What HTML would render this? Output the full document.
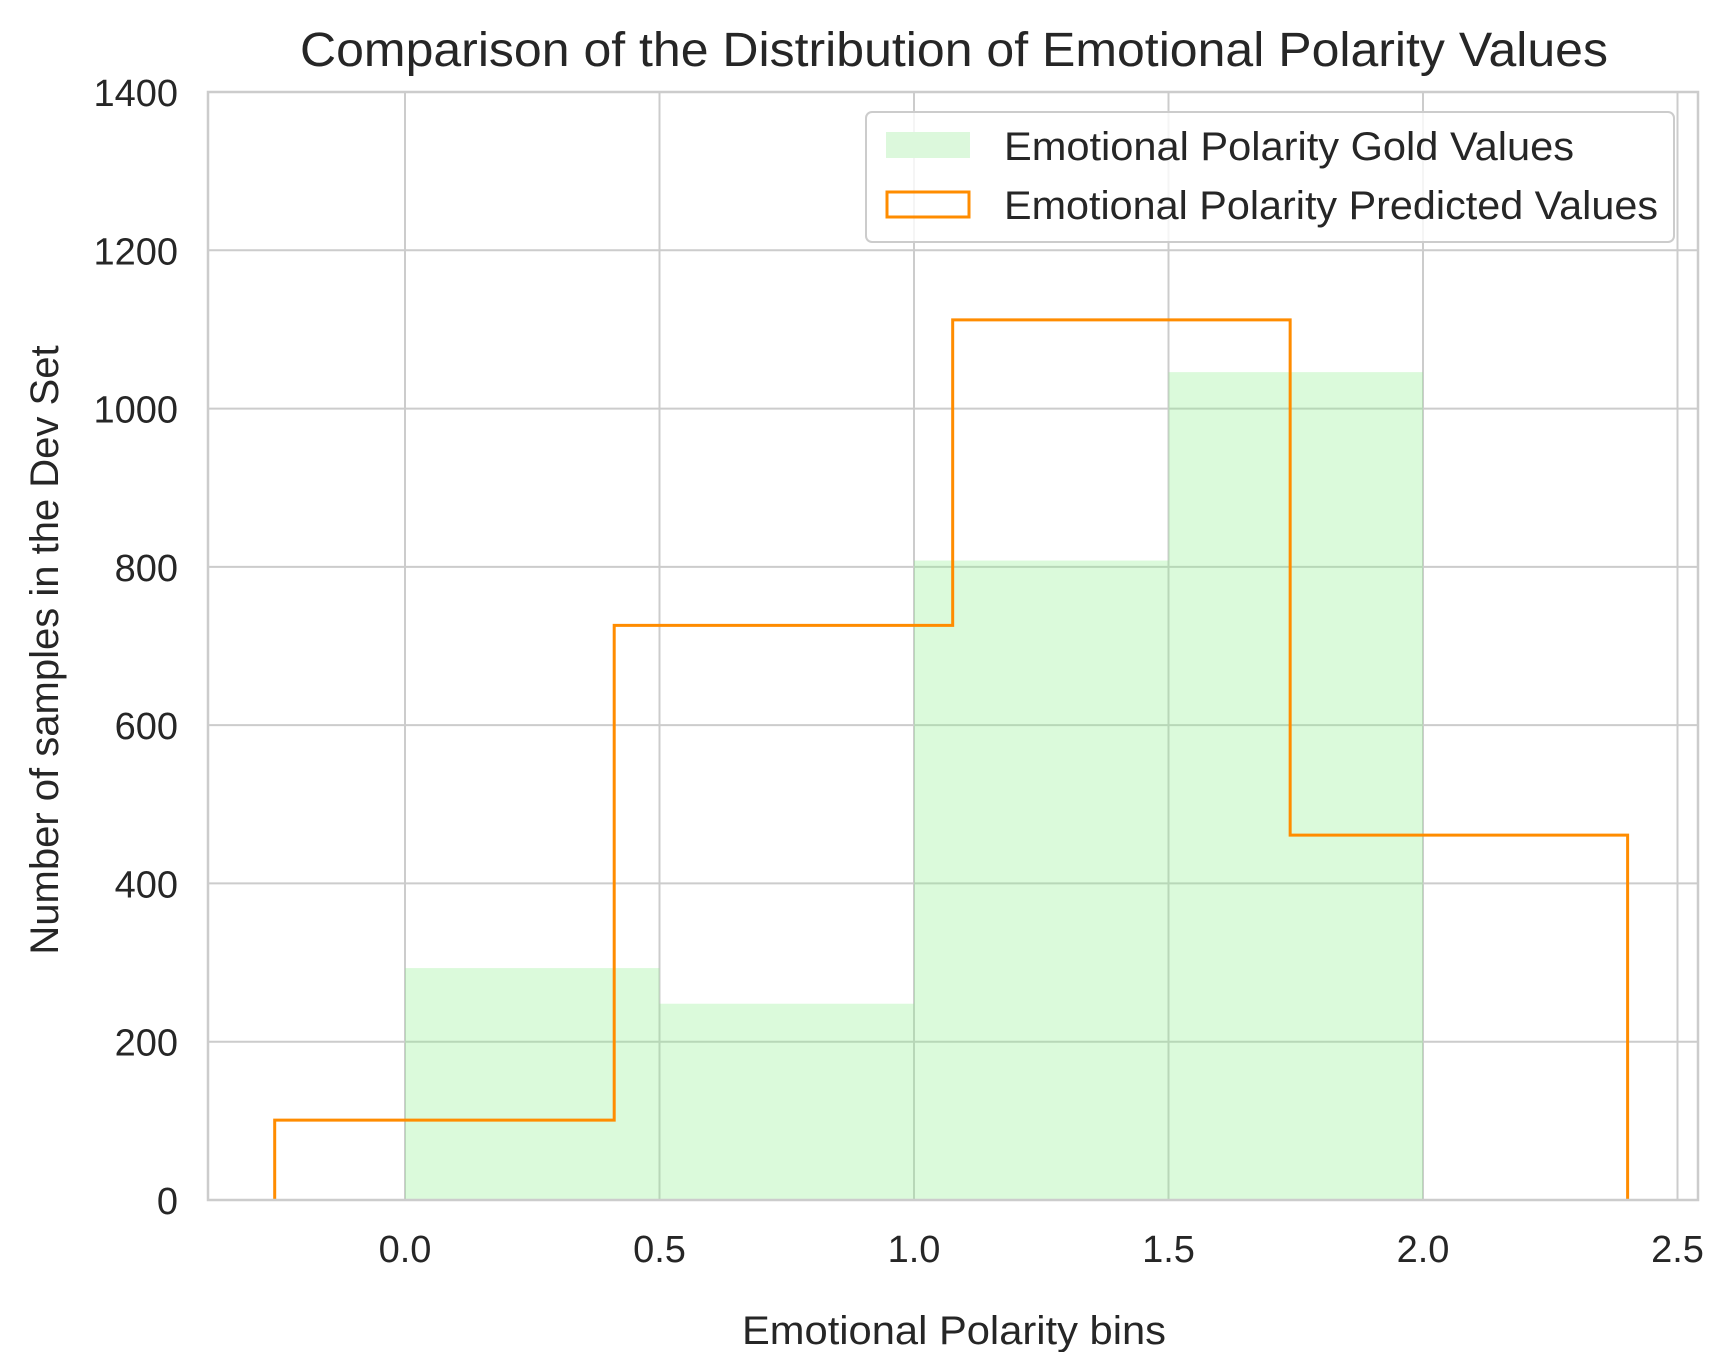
<!DOCTYPE html>
<html><head><meta charset="utf-8"><style>
body{margin:0;background:#fff}
svg text{font-family:"Liberation Sans",Arial,sans-serif;fill:#262626}
</style></head><body>
<svg id="chart" width="1734" height="1352" viewBox="0 0 1734 1352" xmlns="http://www.w3.org/2000/svg">
<g id="grid"></g>
<g id="gold"></g>
<g id="pred"></g>
<g id="axes"></g>
<text x="954" y="66" font-size="48" text-anchor="middle" textLength="1308" lengthAdjust="spacingAndGlyphs">Comparison of the Distribution of Emotional Polarity Values</text>
<text x="954" y="1344" font-size="40" text-anchor="middle" textLength="424" lengthAdjust="spacingAndGlyphs">Emotional Polarity bins</text>
<text transform="translate(58,650) rotate(-90)" font-size="40" text-anchor="middle">Number of samples in the Dev Set</text>
<g>
<rect x="866" y="112" width="808" height="130" rx="6" fill="#fff" fill-opacity="0.8" stroke="#cccccc" stroke-width="2"/>
<rect x="886" y="132" width="84" height="26" fill="#dcf8dc"/>
<text x="1004" y="160" font-size="40" textLength="570" lengthAdjust="spacingAndGlyphs">Emotional Polarity Gold Values</text>
<rect x="887" y="192" width="82" height="25" fill="none" stroke="#ff8c00" stroke-width="3"/>
<text x="1004" y="219" font-size="40" textLength="654" lengthAdjust="spacingAndGlyphs">Emotional Polarity Predicted Values</text>
</g>
</svg>
<script>
const goldEdges=[0,0.5,1.0,1.5,2.0];
const goldCounts=[293,248,808,1046];
const predEdges=[-0.256,0.411,1.076,1.739,2.402];
const predCounts=[101,726,1112,461];
const xTicks=[0.0,0.5,1.0,1.5,2.0,2.5];
const xTickLabels=["0.0","0.5","1.0","1.5","2.0","2.5"];
const yTicks=[0,200,400,600,800,1000,1200,1400];

const L=208,R=1698,T=92,B=1200;
const X0=405,XU=509;
const xs=v=>X0+v*XU;
const ys=v=>B-v*(B-T)/1400;
const NS="http://www.w3.org/2000/svg";
function mk(tag,attrs,parent){const e=document.createElementNS(NS,tag);for(const k in attrs)e.setAttribute(k,attrs[k]);parent.appendChild(e);return e;}
const grid=document.getElementById('grid'),gold=document.getElementById('gold'),pred=document.getElementById('pred'),axes=document.getElementById('axes');
xTicks.forEach((t,i)=>{
  const l=mk('line',{x1:xs(t),x2:xs(t),y1:T,y2:B,stroke:'#cccccc','stroke-width':2},grid);
  
  
  const tx=mk('text',{x:xs(t),y:1262,'font-size':38,'text-anchor':'middle'},axes);
  tx.textContent=xTickLabels[i];
  
  
});
yTicks.forEach(t=>{
  const l=mk('line',{x1:L,x2:R,y1:ys(t),y2:ys(t),stroke:'#cccccc','stroke-width':2},grid);
  
  
  const tx=mk('text',{x:178,y:ys(t)+14,'font-size':38,'text-anchor':'end'},axes);
  tx.textContent=String(t);
  
  
});
goldCounts.forEach((c,i)=>{
  const r=mk('rect',{x:xs(goldEdges[i]),y:ys(c),width:xs(goldEdges[i+1])-xs(goldEdges[i]),height:B-ys(c),fill:'#90ee90','fill-opacity':0.32},gold);
  
  
});
let d='M'+xs(predEdges[0])+','+B;
predCounts.forEach((c,i)=>{d+=' L'+xs(predEdges[i])+','+ys(c)+' L'+xs(predEdges[i+1])+','+ys(c);});
d+=' L'+xs(predEdges[predEdges.length-1])+','+B;
const p=mk('path',{d:d,fill:'none',stroke:'#ff8c00','stroke-width':3},pred);


const fr=mk('rect',{x:L,y:T,width:R-L,height:B-T,fill:'none',stroke:'#cccccc','stroke-width':2.5},axes);


</script>
</body></html>
